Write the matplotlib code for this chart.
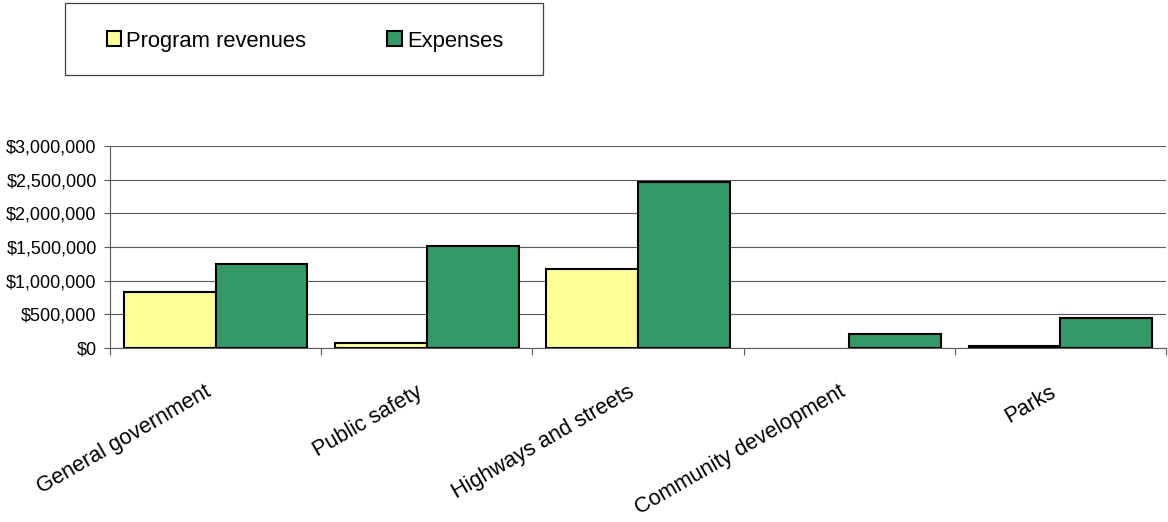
import matplotlib
matplotlib.use("Agg")
import matplotlib.pyplot as plt
from matplotlib.patches import Rectangle, Patch
from matplotlib.ticker import FuncFormatter, FixedLocator
import matplotlib.transforms as mtransforms
import numpy as np

plt.rcParams['font.family'] = ['Liberation Sans', 'DejaVu Sans']

categories = ["General government", "Public safety", "Highways and streets",
              "Community development", "Parks"]
program_revenues = [830000, 75000, 1180000, 0, 25000]
expenses = [1245000, 1510000, 2460000, 205000, 450000]
series_names = ["Program revenues", "Expenses"]
colors = ["#FFFF99", "#339966"]

W, H = 1168, 522
fig = plt.figure(figsize=(W / 100, H / 100), dpi=100)
ax = fig.add_axes([110 / W, 1 - 348 / H, (1166 - 110) / W, (348 - 146) / H])

x = np.arange(len(categories))
w = 1 / 2.3
bars1 = ax.bar(x - w / 2, program_revenues, width=w, color=colors[0], edgecolor="black",
               linewidth=1.5, zorder=3)
ax.bar(x + w / 2, expenses, width=w, color=colors[1], edgecolor="black",
       linewidth=1.5, zorder=3)
for b, v in zip(bars1, program_revenues):
    if v == 0:
        b.set_visible(False)

ax.set_xlim(-0.5, len(categories) - 0.5)
ax.set_ylim(0, 3000000)
ax.set_yticks(np.arange(0, 3000001, 500000))
ax.yaxis.set_major_formatter(FuncFormatter(lambda v, p: "${:,.0f}".format(v)))
ax.yaxis.grid(True, color="#5a5a5a", linewidth=0.8, zorder=0)
ax.set_axisbelow(True)

ax.xaxis.set_major_locator(FixedLocator(np.arange(-0.5, len(categories), 1.0)))
ax.xaxis.set_major_formatter(FuncFormatter(lambda v, p: ""))
ax.xaxis.set_minor_locator(FixedLocator(x))
ax.set_xticklabels(categories, minor=True)
ax.tick_params(axis="x", which="major", length=5, color="#5a5a5a", width=0.8)
ax.tick_params(axis="x", which="minor", length=0, pad=24, labelsize=15.6)
shift = mtransforms.ScaledTranslation(-11 / 100, 0, fig.dpi_scale_trans)
for lbl in ax.get_xticklabels(minor=True):
    lbl.set_rotation(30)
    lbl.set_ha("right")
    lbl.set_va("top")
    lbl.set_rotation_mode("anchor")
    lbl.set_transform(lbl.get_transform() + shift)
ax.tick_params(axis="y", length=4.5, color="#5a5a5a", width=0.8, pad=5, labelsize=13)

for s in ["top", "right"]:
    ax.spines[s].set_visible(False)
ax.spines["left"].set_color("#5a5a5a")
ax.spines["bottom"].set_color("#5a5a5a")
ax.spines["left"].set_linewidth(0.8)
ax.spines["bottom"].set_linewidth(0.8)

# legend box
fig.patches.append(Rectangle((65 / W, 1 - 75 / H), (543 - 65) / W, (75 - 3) / H,
                             transform=fig.transFigure, fill=False,
                             edgecolor="#404040", linewidth=0.9))
handles = [Patch(facecolor=colors[0], edgecolor="black", linewidth=1.5),
           Patch(facecolor=colors[1], edgecolor="black", linewidth=1.5)]
fig.legend(handles, series_names, loc="center",
           bbox_to_anchor=(305 / W, 1 - 41 / H), ncol=2, frameon=False,
           fontsize=15.8, handlelength=0.65, handleheight=0.65,
           handletextpad=0.25, columnspacing=3.7, borderpad=0)

fig.savefig("out.png", dpi=100)
